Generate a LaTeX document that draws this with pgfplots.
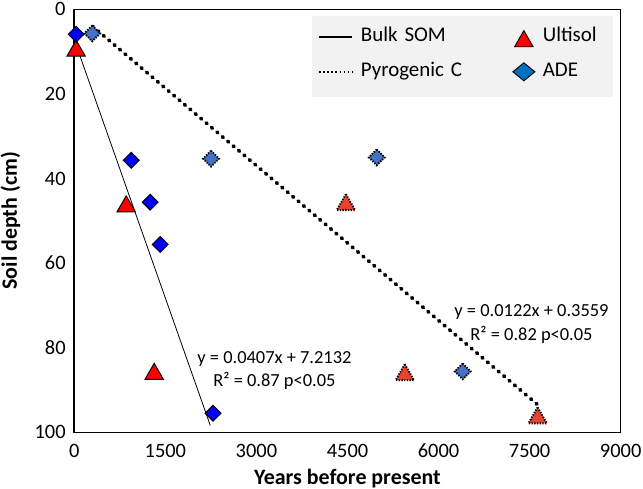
\documentclass[border=0pt]{standalone}
\usepackage{fontspec}
\setmainfont{Carlito}
\usepackage{pgfplots}
\pgfplotsset{compat=1.18}
\definecolor{bulkred}{HTML}{FF0000}
\definecolor{bulkblue}{HTML}{0000FF}
\definecolor{pyrored}{HTML}{E8432F}
\definecolor{pyroblue}{HTML}{4472C4}
\definecolor{legblue}{HTML}{0070C0}
\definecolor{leggray}{HTML}{F2F2F2}

\pgfdeclareplotmark{tri}{%
  \pgfpathmoveto{\pgfqpoint{0pt}{0.87\pgfplotmarksize}}%
  \pgfpathlineto{\pgfqpoint{\pgfplotmarksize}{-0.87\pgfplotmarksize}}%
  \pgfpathlineto{\pgfqpoint{-\pgfplotmarksize}{-0.87\pgfplotmarksize}}%
  \pgfpathclose
  \pgfusepathqfillstroke
}
\pgfdeclareplotmark{dia}{%
  \pgfpathmoveto{\pgfqpoint{0pt}{\pgfplotmarksize}}%
  \pgfpathlineto{\pgfqpoint{\pgfplotmarksize}{0pt}}%
  \pgfpathlineto{\pgfqpoint{0pt}{-\pgfplotmarksize}}%
  \pgfpathlineto{\pgfqpoint{-\pgfplotmarksize}{0pt}}%
  \pgfpathclose
  \pgfusepathqfillstroke
}

\pgfplotsset{
  legBulk/.style={legend image code/.code={%
    \path[draw=none,fill=none] (0bp,-8.5bp) rectangle (33bp,8.5bp);
    \draw[black,line width=1.6bp] (0bp,0bp) -- (33bp,0bp);}},
  legPyro/.style={legend image code/.code={%
    \path[draw=none,fill=none] (0bp,-8.5bp) rectangle (33bp,8.5bp);
    \draw[black,line width=1.7bp,dash pattern=on 1.7bp off 2.4bp] (0bp,0bp) -- (33bp,0bp);}},
  legUlt/.style={legend image code/.code={%
    \path[draw=none,fill=none] (-10bp,-8.5bp) rectangle (10bp,8.5bp);
    \draw[only marks,mark=tri,mark size=9.3bp,mark options={fill=bulkred,draw=black,line width=0.9bp,solid}] plot coordinates {(0bp,-1.5bp)};}},
  legADE/.style={legend image code/.code={%
    \path[draw=none,fill=none] (-10bp,-8.5bp) rectangle (10bp,8.5bp);
    \draw[only marks,mark=dia,mark size=9bp,mark options={fill=legblue,draw=black,line width=0.9bp,solid,xscale=1.22}] plot coordinates {(0bp,0bp)};}},
}

\begin{document}
\begin{tikzpicture}
\path[use as bounding box] (-74.3bp,-56.7bp) rectangle (568.7bp,432.3bp);
\begin{axis}[
  scale only axis, width=546.4bp, height=423bp,
  xmin=0, xmax=9000, ymin=0, ymax=100, y dir=reverse,
  xtick={0,1500,...,9000}, ytick={0,20,...,100},
  major tick length=0pt,
  axis line style={line width=1.6bp, black},
  clip=false,
  /pgf/number format/assume math mode=true,
  /pgf/number format/1000 sep={},
  tick label style={font=\fontsize{20.5}{24}\selectfont, inner sep=0pt},
  xticklabel style={anchor=north, yshift=-11.7bp},
  yticklabel style={anchor=east, xshift=-8.5bp},
  xlabel={Years before present},
  ylabel={Soil depth (cm)},
  label style={font=\fontsize{22}{26}\selectfont\bfseries},
  xlabel style={at={(axis description cs:0.5,-0.1087)}, anchor=center},
  ylabel style={at={(axis description cs:-0.117,0.5)}, anchor=center},
  legend columns=2,
  legend cell align=left,
  legend style={at={(axis description cs:0.4460,0.9546)}, anchor=north west,
    inner sep=0pt, draw=none, fill=none, column sep=8bp, row sep=16bp,
    nodes={font=\fontsize{21}{25}\selectfont, inner sep=0pt, text height=13bp, text depth=4bp, text width=144bp}},
]
\fill[leggray] (axis description cs:0.4350,0.7934) rectangle (axis description cs:0.9865,0.9835);

% trend lines
\addplot[forget plot, black, line width=0.8bp] coordinates {(0,7.2132) (2240,98.38)};
\addplot[forget plot, black, line width=3.7bp, line cap=round, dash pattern=on 1.2bp off 5.9bp] coordinates {(300,4.02) (7632,93.47)};

% Bulk SOM
\addplot[forget plot, only marks, mark=tri, mark size=9.2bp, mark options={fill=bulkred, draw=black, line width=1bp, solid}]
  coordinates {(30,9.2) (855,46) (1316,85.6)};
\addplot[forget plot, only marks, mark=dia, mark size=7.9bp, mark options={fill=bulkblue, draw=black, line width=1bp, solid}]
  coordinates {(30,5.9) (938,35.7) (1250,45.6) (1414,55.6) (2286,95.5)};

% Pyrogenic C
\addplot[forget plot, only marks, mark=tri, mark size=9.2bp, mark options={fill=pyrored, draw=black, line width=1.9bp, dash pattern=on 1.4bp off 1.3bp}]
  coordinates {(4474,45.6) (5444,85.8) (7632,96)};
\addplot[forget plot, only marks, mark=dia, mark size=7.9bp, mark options={fill=pyroblue, draw=black, line width=1.9bp, dash pattern=on 1.4bp off 1.3bp}]
  coordinates {(296,5.7) (2253,35.3) (4983,35) (6398,85.6)};

\addlegendimage{legBulk}\addlegendentry{Bulk SOM}
\addlegendimage{legUlt}\addlegendentry{Ultisol}
\addlegendimage{legPyro}\addlegendentry{Pyrogenic C}
\addlegendimage{legADE}\addlegendentry{ADE}

\node[align=center, font=\fontsize{18.5}{24}\selectfont] at (axis cs:3297,85.4) {y = 0.0407x + 7.2132\\R² = 0.87 p<0.05};
\node[align=center, font=\fontsize{18.5}{24}\selectfont] at (axis cs:7531,74.4) {y = 0.0122x + 0.3559\\R² = 0.82 p<0.05};
\end{axis}
\end{tikzpicture}
\end{document}
